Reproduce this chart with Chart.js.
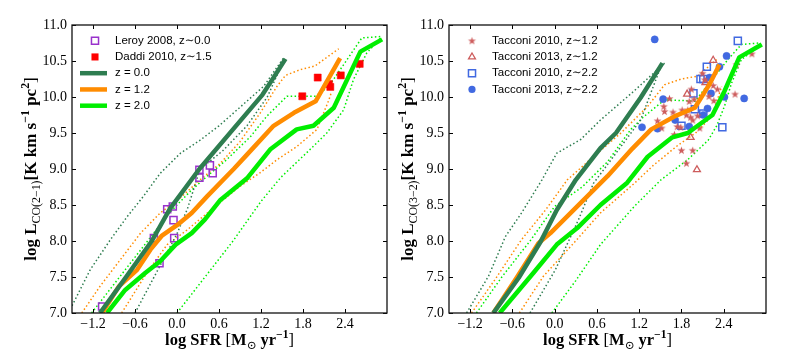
<!DOCTYPE html>
<html><head><meta charset="utf-8">
<script src="https://cdn.jsdelivr.net/npm/chart.js@4.4.1/dist/chart.umd.min.js"></script>
<style>
html,body{margin:0;padding:0;background:#fff;}
#wrap{position:relative;width:789px;height:361px;background:#fff;}
canvas{position:absolute;left:0;top:0;}
</style></head><body>
<div id="wrap"><canvas id="c1" width="789" height="361"></canvas><canvas id="c2" width="789" height="361"></canvas></div>
<script>
// ================= DATA =================
const xTicks = [-1.2, -0.6, 0.0, 0.6, 1.2, 1.8, 2.4];
const yTicks = [7.0, 7.5, 8.0, 8.5, 9.0, 9.5, 10.0, 10.5, 11.0];

// ---- left panel: CO(2-1) ----
const leroy2008 = [[-1.07,7.09],[-0.25,7.69],[-0.33,8.04],[-0.04,8.04],[-0.14,8.44],[-0.06,8.48],[-0.05,8.29],[0.32,8.99],[0.32,8.88],[0.47,9.05],[0.51,8.94]];
const daddi2010 = [[1.79,10.01],[2.01,10.27],[2.17,10.18],[2.19,10.14],[2.34,10.30],[2.61,10.46]];

const co21_z00 = [[-1.10,7.0],[-0.72,7.51],[-0.36,8.0],[-0.10,8.45],[0.32,9.0],[0.80,9.55],[1.22,10.03],[1.40,10.30],[1.55,10.53]];
const co21_z00_hi = [[-1.5,7.1],[-1.24,7.6],[-0.95,8.02],[-0.71,8.34],[-0.48,8.62],[-0.24,8.94],[0.05,9.22],[0.33,9.40],[0.60,9.60],[0.81,9.78],[1.24,10.15],[1.52,10.54]];
const co21_z00_lo = [[-0.60,7.0],[-0.30,7.55],[0.0,8.1],[0.15,8.45],[0.33,9.0],[0.65,9.25],[1.0,9.6],[1.29,10.0],[1.52,10.5]];

const co21_z12 = [[-1.07,7.0],[-0.83,7.37],[-0.57,7.6],[-0.38,7.88],[-0.22,8.07],[0.0,8.22],[0.21,8.39],[0.43,8.62],[0.81,9.0],[1.0,9.2],[1.38,9.6],[1.67,9.78],[1.98,9.94],[2.33,10.54]];
const co21_z12_hi = [[-1.36,7.0],[-1.10,7.37],[-0.81,7.74],[-0.52,8.11],[-0.24,8.39],[0.05,8.6],[0.33,8.85],[0.62,9.08],[0.90,9.38],[1.19,9.78],[1.43,10.15],[1.55,10.30],[1.76,10.38],[1.97,10.43],[2.31,10.67]];
const co21_z12_lo = [[-0.79,7.0],[-0.43,7.56],[-0.14,7.95],[0.14,8.15],[0.52,8.46],[0.90,8.76],[1.19,8.95],[1.43,9.13],[1.71,9.31],[2.0,9.55],[2.17,9.96],[2.20,10.05]];

const co21_z20 = [[-1.0,7.0],[-0.74,7.32],[-0.45,7.56],[-0.24,7.72],[-0.02,7.95],[0.21,8.11],[0.40,8.3],[0.62,8.57],[1.0,8.87],[1.33,9.27],[1.71,9.55],[1.95,9.6],[2.24,9.85],[2.62,10.63],[2.93,10.8]];
const co21_z20_hi = [[-1.22,7.0],[-0.9,7.4],[-0.5,7.9],[-0.1,8.4],[0.2,8.7],[0.43,8.9],[0.71,9.13],[1.05,9.45],[1.28,9.73],[1.57,10.01],[1.98,10.01],[2.17,10.15],[2.43,10.52],[2.64,10.82],[2.91,10.84]];
const co21_z20_lo = [[0.0,7.0],[0.4,7.5],[0.8,8.0],[1.2,8.55],[1.48,8.88],[1.9,9.27],[2.14,9.5],[2.38,9.82],[2.52,10.24],[2.71,10.61],[2.91,10.82]];

// ---- right panel: CO(3-2) ----
const tacconi2010_z12 = [[1.46,9.67],[1.55,9.87],[1.63,9.98],[1.52,9.57],[1.56,9.80],[1.68,9.79],[1.81,9.82],[1.89,9.82],[1.87,9.75],[1.91,9.94],[1.94,10.11],[1.98,9.97],[1.93,9.72],[1.96,9.68],[1.80,9.26],[1.96,9.26],[1.87,9.08],[1.70,9.48],[1.74,9.59],[1.79,9.58],[2.06,9.57],[2.03,9.74],[2.10,10.33],[2.13,10.24],[2.19,10.01],[2.25,10.16],[2.31,10.11],[2.26,9.95],[2.56,10.04],[2.58,10.45],[2.80,10.60]];
const tacconi2013_z12 = [[2.25,10.51],[1.88,10.04],[1.93,9.44],[2.02,8.99],[2.14,10.20]];
const tacconi2010_z22 = [[2.60,10.78],[2.16,10.42],[2.07,10.25],[2.11,10.25],[1.97,10.05],[1.99,9.83],[1.80,9.60],[2.38,9.58],[2.11,9.77]];
const tacconi2013_z22 = [[1.42,10.80],[1.24,9.58],[1.54,9.97],[1.46,9.56],[1.71,9.68],[1.91,9.59],[2.11,9.75],[2.17,9.84],[2.22,10.05],[2.20,10.27],[2.34,10.42],[2.44,10.57],[2.41,10.0],[2.69,9.98]];

const co32_z00 = [[-0.87,7.0],[-0.51,7.49],[-0.20,7.99],[0.03,8.43],[0.30,8.85],[0.65,9.29],[0.87,9.5],[1.22,9.99],[1.53,10.47]];
const co32_z00_hi = [[-1.25,7.0],[-0.94,7.51],[-0.70,8.06],[-0.47,8.39],[-0.18,8.85],[0.03,9.22],[0.37,9.41],[0.65,9.68],[1.10,10.06],[1.56,10.47]];
const co32_z00_lo = [[-0.35,7.0],[0.01,7.6],[0.34,8.3],[0.55,8.8],[0.84,9.18],[1.22,9.68],[1.51,10.43]];

const co32_z12 = [[-0.87,7.0],[-0.54,7.49],[-0.23,7.97],[-0.06,8.11],[0.32,8.48],[0.75,8.9],[1.10,9.28],[1.37,9.55],[1.70,9.73],[1.99,9.85],[2.20,10.18],[2.34,10.45]];
const co32_z12_hi = [[-1.18,7.0],[-0.85,7.46],[-0.47,8.02],[-0.13,8.43],[0.18,8.85],[0.56,9.18],[0.94,9.5],[1.32,9.87],[1.56,10.17],[1.80,10.25],[2.03,10.29],[2.30,10.52]];
const co32_z12_lo = [[-0.50,7.0],[-0.16,7.51],[0.27,7.97],[0.65,8.39],[1.13,8.8],[1.40,9.05],[1.75,9.33],[2.0,9.5],[2.22,9.72],[2.32,9.99],[2.37,10.15]];

const co32_z20 = [[-0.78,7.0],[-0.30,7.56],[0.03,7.95],[0.32,8.18],[0.65,8.5],[1.03,8.81],[1.32,9.17],[1.67,9.44],[1.89,9.5],[2.03,9.6],[2.24,9.75],[2.41,10.08],[2.62,10.55],[2.94,10.73]];
const co32_z20_hi = [[-1.11,7.0],[-0.75,7.5],[-0.35,8.0],[0.0,8.48],[0.39,8.75],[0.75,9.1],[1.08,9.55],[1.27,9.73],[1.56,9.96],[1.84,9.95],[1.99,9.94],[2.20,10.2],[2.46,10.52],[2.65,10.73],[2.91,10.75]];
const co32_z20_lo = [[-0.04,7.0],[0.30,7.45],[0.65,7.95],[1.13,8.48],[1.51,8.85],[1.89,9.13],[2.18,9.4],[2.30,9.6],[2.41,9.87],[2.51,10.19],[2.65,10.52],[2.94,10.73]];

const leftLegendLabels = ['Leroy 2008, z\u223C0.0', 'Daddi 2010, z\u223C1.5', 'z = 0.0', 'z = 1.2', 'z = 2.0'];
const rightLegendLabels = ['Tacconi 2010, z\u223C1.2', 'Tacconi 2013, z\u223C1.2', 'Tacconi 2010, z\u223C2.2', 'Tacconi 2013, z\u223C2.2'];

// ================= STYLE =================
const C_DG = '#2e7d50', C_OR = '#ff8c00', C_LG = '#00ee00';
const C_PURPLE = '#9932cc', C_RED = '#ff0000', C_IRED = '#cd5c5c', C_BLUE = '#4169e1';
const SERIF = '"Liberation Serif", "DejaVu Serif", serif';
const SANS = '"Liberation Sans", Arial, "DejaVu Sans", sans-serif';

function starCanvas(r, color) {
  const size = Math.ceil(2 * r + 2);
  const c = document.createElement('canvas'); c.width = c.height = size;
  const g = c.getContext('2d'); g.translate(size / 2, size / 2 + r * 0.08);
  g.beginPath();
  for (let i = 0; i < 10; i++) {
    const rad = (i % 2) ? r * 0.4 : r;
    const a = -Math.PI / 2 + i * Math.PI / 5;
    g.lineTo(rad * Math.cos(a), rad * Math.sin(a));
  }
  g.closePath(); g.fillStyle = color; g.fill();
  return c;
}
const STAR = starCanvas(4.2, C_IRED);

const toXY = a => a.map(p => ({x: p[0], y: p[1]}));
function lineDS(pts, color, dotted) {
  return {data: toXY(pts), showLine: true, pointRadius: 0, borderColor: color,
    borderWidth: dotted ? 1.5 : 4.5, borderDash: dotted ? [1.5, 2.4] : [],
    borderJoinStyle: 'round', borderCapStyle: 'butt', fill: false, tension: 0, order: dotted ? 3 : 1};
}
function markDS(pts, style, r, fill, stroke, bw) {
  return {data: toXY(pts), showLine: false, pointStyle: style, pointRadius: r,
    pointBackgroundColor: fill, pointBorderColor: stroke, pointBorderWidth: bw, order: 2};
}

function drawMarker(ctx, m, x, y) {
  ctx.save();
  ctx.beginPath();
  if (m.type === 'rect') { const s = m.r * Math.SQRT1_2; ctx.rect(x - s, y - s, 2 * s, 2 * s); }
  else if (m.type === 'circle') { ctx.arc(x, y, m.r, 0, Math.PI * 2); }
  else if (m.type === 'triangle') {
    ctx.moveTo(x, y - m.r); ctx.lineTo(x + m.r * 0.866, y + m.r * 0.5); ctx.lineTo(x - m.r * 0.866, y + m.r * 0.5); ctx.closePath();
  } else if (m.type === 'star') { ctx.drawImage(STAR, x - STAR.width / 2, y - STAR.height / 2); ctx.restore(); return; }
  if (m.fill) { ctx.fillStyle = m.fill; ctx.fill(); }
  if (m.stroke) { ctx.strokeStyle = m.stroke; ctx.lineWidth = m.bw; ctx.stroke(); }
  ctx.restore();
}

function drawRich(ctx, segs, x, y, rotate, size) {
  ctx.save();
  ctx.translate(x, y); if (rotate) ctx.rotate(-Math.PI / 2);
  let total = 0;
  segs.forEach(s => { const sc = s.s || 1; ctx.font = `${s.w} ${size * sc}px ${SERIF}`; s._w = ctx.measureText(s.t).width; total += s._w; });
  let cx = -total / 2;
  ctx.fillStyle = '#000'; ctx.textAlign = 'left'; ctx.textBaseline = 'alphabetic';
  segs.forEach(s => { const sc = s.s || 1; ctx.font = `${s.w} ${size * sc}px ${SERIF}`; ctx.fillText(s.t, cx, (s.dy || 0) * size); cx += s._w; });
  ctx.restore();
}

const fmtX = v => (v < 0 ? '\u2212' : '') + Math.abs(v).toFixed(1);

function makePanel(id, cfg) {
  const decor = {
    id: 'decor' + id,
    afterDatasetsDraw(chart) {
      const ctx = chart.ctx, a = chart.chartArea, xs = chart.scales.x, ys = chart.scales.y;
      ctx.save();
      ctx.strokeStyle = '#000'; ctx.lineWidth = 1;
      ctx.beginPath();
      xTicks.forEach(v => { const px = Math.round(xs.getPixelForValue(v)) + 0.5;
        ctx.moveTo(px, a.bottom); ctx.lineTo(px, a.bottom - 4); ctx.moveTo(px, a.top); ctx.lineTo(px, a.top + 4); });
      yTicks.forEach(v => { const py = Math.round(ys.getPixelForValue(v)) + 0.5;
        ctx.moveTo(a.left, py); ctx.lineTo(a.left + 4, py); ctx.moveTo(a.right, py); ctx.lineTo(a.right - 4, py); });
      ctx.stroke();
      ctx.lineWidth = 1.3; ctx.strokeStyle = '#111';
      ctx.strokeRect(a.left, a.top, a.right - a.left, a.bottom - a.top);
      // legend
      ctx.textBaseline = 'middle'; ctx.textAlign = 'left'; ctx.fillStyle = '#000';
      ctx.font = `11.5px ${SANS}`;
      cfg.legend.forEach((it, i) => {
        const cy = a.top + 15.7 + 16.25 * i;
        if (it.line) {
          ctx.save(); ctx.strokeStyle = it.line; ctx.lineWidth = 4.5; ctx.beginPath();
          ctx.moveTo(a.left + 8, cy); ctx.lineTo(a.left + 35, cy); ctx.stroke(); ctx.restore();
        } else {
          drawMarker(ctx, it.marker, a.left + 23, cy);
        }
        ctx.fillText(it.label, a.left + 43, cy);
      });
      // axis titles
      drawRich(ctx, [
        {t: 'log ', w: 'bold'}, {t: 'SFR ', w: 'bold'}, {t: '[', w: 'normal'}, {t: 'M', w: 'bold'},
        {t: '\u2299', w: 'normal', s: 0.7, dy: 0.22}, {t: ' yr', w: 'bold'}, {t: '\u22121', w: 'bold', s: 0.7, dy: -0.4}, {t: ']', w: 'normal'}
      ], (a.left + a.right) / 2, 345, false, 16.5);
      drawRich(ctx, [
        {t: 'log L', w: 'bold'}, {t: cfg.sub, w: 'normal', s: 0.7, dy: 0.25}, {t: '[K km s', w: 'bold'},
        {t: '\u22121', w: 'bold', s: 0.7, dy: -0.4}, {t: ' pc', w: 'bold'}, {t: '2', w: 'bold', s: 0.7, dy: -0.4}, {t: ']', w: 'normal'}
      ], a.left - 36, (a.top + a.bottom) / 2, true, 17);
      ctx.restore();
    }
  };
  return new Chart(document.getElementById(id), {
    type: 'scatter',
    data: {datasets: cfg.datasets},
    options: {
      responsive: false, animation: false, events: [],
      layout: {padding: {left: cfg.left - 40, right: 789 - cfg.right, top: 25, bottom: 0}},
      plugins: {legend: {display: false}, tooltip: {enabled: false}},
      scales: {
        x: {type: 'linear', min: -1.5, max: 3.0,
          afterBuildTicks: s => { s.ticks = xTicks.map(v => ({value: v})); },
          afterFit: s => { s.height = 48; },
          grid: {display: false, drawTicks: false}, border: {display: false},
          ticks: {padding: 3, color: '#000', font: {family: SERIF, size: 14}, callback: v => fmtX(v), autoSkip: false, maxRotation: 0}},
        y: {type: 'linear', min: 7.0, max: 11.0,
          afterBuildTicks: s => { s.ticks = yTicks.map(v => ({value: v})); },
          afterFit: s => { s.width = 40; },
          grid: {display: false, drawTicks: false}, border: {display: false},
          ticks: {padding: 5, color: '#000', font: {family: SERIF, size: 14}, callback: v => v.toFixed(1), autoSkip: false}}
      }
    },
    plugins: [decor]
  });
}

makePanel('c1', {
  left: 72, right: 387, sub: 'CO(2\u22121)',
  datasets: [
    lineDS(co21_z00_hi, C_DG, true), lineDS(co21_z00_lo, C_DG, true),
    lineDS(co21_z12_hi, C_OR, true), lineDS(co21_z12_lo, C_OR, true),
    lineDS(co21_z20_hi, C_LG, true), lineDS(co21_z20_lo, C_LG, true),
    markDS(leroy2008, 'rect', 5, 'rgba(0,0,0,0)', C_PURPLE, 1.5),
    markDS(daddi2010, 'rect', 5, C_RED, C_RED, 0.5),
    lineDS(co21_z00, C_DG, false), lineDS(co21_z12, C_OR, false), lineDS(co21_z20, C_LG, false)
  ],
  legend: [
    {label: leftLegendLabels[0], marker: {type: 'rect', r: 5, stroke: C_PURPLE, bw: 1.5}},
    {label: leftLegendLabels[1], marker: {type: 'rect', r: 5, fill: C_RED}},
    {label: leftLegendLabels[2], line: C_DG},
    {label: leftLegendLabels[3], line: C_OR},
    {label: leftLegendLabels[4], line: C_LG}
  ]
});

makePanel('c2', {
  left: 449, right: 766, sub: 'CO(3\u22122)',
  datasets: [
    lineDS(co32_z00_hi, C_DG, true), lineDS(co32_z00_lo, C_DG, true),
    lineDS(co32_z12_hi, C_OR, true), lineDS(co32_z12_lo, C_OR, true),
    lineDS(co32_z20_hi, C_LG, true), lineDS(co32_z20_lo, C_LG, true),
    markDS(tacconi2010_z12, STAR, 4.2, C_IRED, C_IRED, 0),
    markDS(tacconi2013_z12, 'triangle', 4, 'rgba(0,0,0,0)', C_IRED, 1.3),
    markDS(tacconi2010_z22, 'rect', 5, 'rgba(0,0,0,0)', C_BLUE, 1.5),
    markDS(tacconi2013_z22, 'circle', 3.6, C_BLUE, C_BLUE, 0.5),
    lineDS(co32_z00, C_DG, false), lineDS(co32_z12, C_OR, false), lineDS(co32_z20, C_LG, false)
  ],
  legend: [
    {label: rightLegendLabels[0], marker: {type: 'star'}},
    {label: rightLegendLabels[1], marker: {type: 'triangle', r: 4, stroke: C_IRED, bw: 1.3}},
    {label: rightLegendLabels[2], marker: {type: 'rect', r: 5, stroke: C_BLUE, bw: 1.5}},
    {label: rightLegendLabels[3], marker: {type: 'circle', r: 3.6, fill: C_BLUE}}
  ]
});
</script></body></html>
